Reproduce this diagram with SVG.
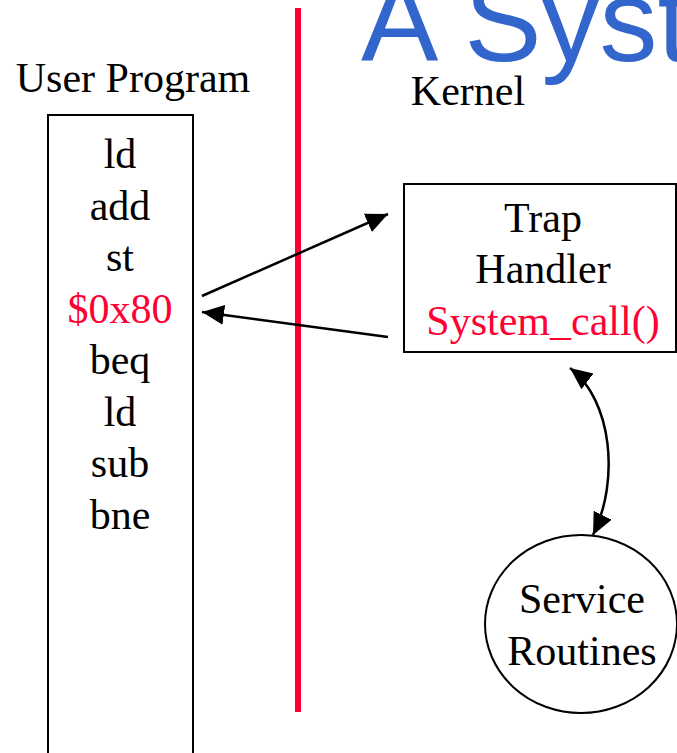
<svg xmlns="http://www.w3.org/2000/svg" width="677" height="753" viewBox="0 0 677 753">
  <style>
    .lbl { font-family: "Liberation Serif", "Times New Roman", serif; font-size: 42px; fill: #000; text-anchor: middle; }
    .hot { fill: #FF0033; }
    .title { font-family: "Liberation Sans", Arial, sans-serif; font-size: 116px; fill: #3366CC; }
    .box { fill: #fff; stroke: #000; stroke-width: 2; }
    .edge { fill: none; stroke: #000; stroke-width: 2.5; }
  </style>
  <defs>
    <marker id="head" markerUnits="userSpaceOnUse" markerWidth="24" markerHeight="22" refX="22" refY="10" orient="auto-start-reverse">
      <path d="M0,0 L22,10 L0,20 z" fill="#000"/>
    </marker>
  </defs>

  <rect width="677" height="753" fill="#fff"/>

  <!-- slide title, running off the right edge -->
  <text class="title" x="361" y="61">A Syst</text>

  <!-- user / kernel boundary -->
  <rect x="295" y="8" width="6" height="704" fill="#FF0033"/>

  <text class="lbl" x="133" y="92">User Program</text>
  <text class="lbl" x="468" y="105">Kernel</text>

  <g id="user-program">
    <rect class="box" x="48" y="115" width="145" height="660"/>
    <text class="lbl" x="120" y="168">ld</text>
    <text class="lbl" x="120" y="219.5">add</text>
    <text class="lbl" x="120" y="271">st</text>
    <text class="lbl hot" x="120" y="322.5">$0x80</text>
    <text class="lbl" x="120" y="374">beq</text>
    <text class="lbl" x="120" y="425.5">ld</text>
    <text class="lbl" x="120" y="477">sub</text>
    <text class="lbl" x="120" y="528.5">bne</text>
  </g>

  <g id="trap-handler">
    <rect class="box" x="404" y="184" width="272" height="168"/>
    <text class="lbl" x="543" y="232">Trap</text>
    <text class="lbl" x="543" y="283">Handler</text>
    <text class="lbl hot" x="543" y="335">System_call()</text>
  </g>

  <g id="service-routines">
    <ellipse class="box" cx="581" cy="624" rx="96" ry="89"/>
    <text class="lbl" x="582" y="613">Service</text>
    <text class="lbl" x="582" y="665">Routines</text>
  </g>

  <g id="connectors">
    <line class="edge" x1="202" y1="296" x2="388" y2="214" marker-end="url(#head)"/>
    <line class="edge" x1="388" y1="337" x2="202" y2="312" marker-end="url(#head)"/>
    <path class="edge" d="M570,368 C612,400 620,480 593,535" marker-start="url(#head)" marker-end="url(#head)"/>
  </g>
</svg>
